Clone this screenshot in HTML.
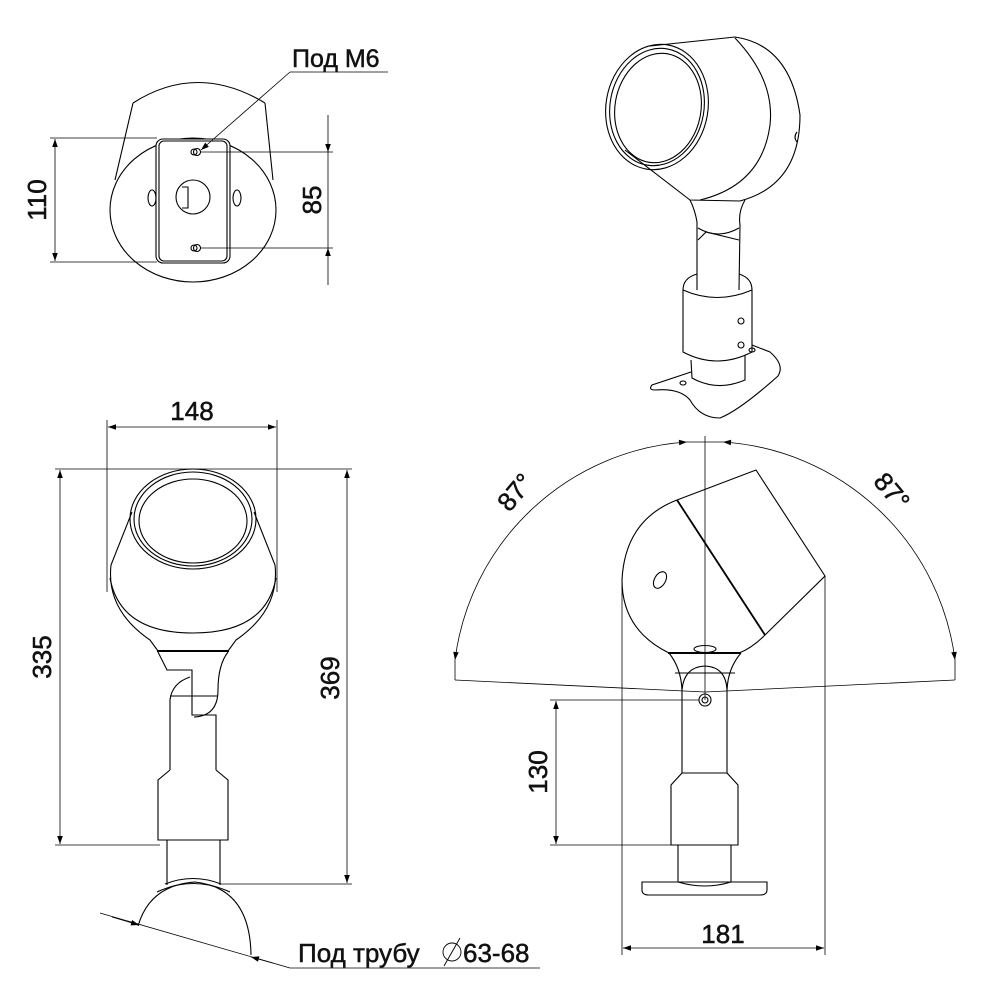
<!DOCTYPE html>
<html><head><meta charset="utf-8"><style>
html,body{margin:0;padding:0;background:#fff}
svg{display:block}
text{font-family:"Liberation Sans",sans-serif;fill:#111;stroke:#111;stroke-width:0.5}
</style></head><body>
<svg width="1000" height="1000" viewBox="0 0 1000 1000" xmlns="http://www.w3.org/2000/svg">
<defs>
<marker id="a" viewBox="0 0 10 10" refX="10" refY="5" markerWidth="16" markerHeight="8" markerUnits="userSpaceOnUse" orient="auto-start-reverse"><path d="M0,1.5 L10,5 L0,8.5z" fill="#000"/></marker>
</defs>
<g fill="none" stroke="#000" stroke-width="1.1">
<!-- TOP LEFT VIEW -->
<path d="M133,103 Q197,62 265,103"/>
<path d="M133,103 L115,180"/>
<path d="M265,103 L273,180"/>
<ellipse cx="193" cy="210" rx="83" ry="72"/>
<rect x="156" y="139" width="74" height="124" rx="7" fill="#fff"/>
<rect x="159" y="141" width="68" height="120" rx="5"/>
<circle cx="197" cy="152" r="3.5"/><circle cx="194" cy="152" r="3"/>
<circle cx="197" cy="248" r="3.5"/><circle cx="194" cy="248" r="3"/>
<circle cx="193" cy="197" r="17"/>
<path d="M182,187 L188,187 L188,208 L182,208"/>
<ellipse cx="152" cy="198" rx="4" ry="8"/>
<ellipse cx="237" cy="198" rx="4" ry="8"/>
<!-- dims top-left -->
<line x1="50" y1="138" x2="157" y2="138" stroke-width="0.8"/>
<line x1="50" y1="262" x2="157" y2="262" stroke-width="0.8"/>
<line x1="55" y1="139" x2="55" y2="261" marker-start="url(#a)" marker-end="url(#a)" stroke-width="0.8"/>
<line x1="200" y1="152" x2="333" y2="152" stroke-width="0.8"/>
<line x1="200" y1="248" x2="333" y2="248" stroke-width="0.8"/>
<line x1="328" y1="115" x2="328" y2="152" marker-end="url(#a)" stroke-width="0.8"/>
<line x1="328" y1="152" x2="328" y2="248" stroke-width="0.8"/>
<line x1="328" y1="285" x2="328" y2="248" marker-end="url(#a)" stroke-width="0.8"/>
<line x1="290" y1="72" x2="388" y2="72" stroke-width="0.8"/>
<line x1="290" y1="72" x2="201" y2="150" marker-end="url(#a)" stroke-width="0.8"/>

<!-- TOP RIGHT ISOMETRIC -->
<ellipse cx="657" cy="107" rx="51" ry="63" transform="rotate(10 657 107)"/>
<ellipse cx="657" cy="107" rx="47" ry="59" transform="rotate(10 657 107)"/>
<ellipse cx="658" cy="108" rx="43" ry="55" transform="rotate(10 658 108)"/>
<path d="M650,46 L735,37 Q790,45 800,115 Q800,185 740,201 L690,200 L625,150"/>
<path d="M735,38 Q775,80 770,125 Q762,185 700,200"/>
<path d="M797,132 q-4,5 0,10"/>
<path d="M690,200 Q695,210 697,222 L697,290"/>
<path d="M745,200 Q738,212 740,225 L739,290"/>
<path d="M698,228 Q718,240 739,228"/>
<path d="M698,240 L706,232 L739,240"/>
<path d="M683,290 Q683,278 697,274 M739,274 Q752,278 752,290"/>
<path d="M683,290 L683,352 Q717,370 752,352 L752,290 Q717,305 683,290"/>
<path d="M691,360 L692,378 Q717,392 745,380 L745,355"/>
<path d="M691,372 L652,385 Q648,390 655,390 Q680,388 690,400 Q700,418 720,418 Q740,410 778,376 Q785,365 770,352 L752,345"/>
<circle cx="741" cy="321" r="3"/><circle cx="741" cy="345" r="3"/>
<ellipse cx="683" cy="383" rx="3" ry="2"/><ellipse cx="752" cy="350" rx="3" ry="2"/>

<!-- BOTTOM LEFT FRONT VIEW -->
<line x1="55" y1="469" x2="352" y2="469" stroke-width="0.8"/>
<line x1="107" y1="420" x2="107" y2="592" stroke-width="0.8"/>
<line x1="277" y1="420" x2="277" y2="592" stroke-width="0.8"/>
<line x1="108" y1="427" x2="276" y2="427" marker-start="url(#a)" marker-end="url(#a)" stroke-width="0.8"/>
<ellipse cx="193" cy="519" rx="63" ry="50"/>
<ellipse cx="193" cy="519" rx="59" ry="47"/>
<ellipse cx="193" cy="521" rx="54" ry="42"/>
<path d="M132,512 L111,565 Q106,610 150,640 L158,651 M254,512 L275,565 Q280,610 236,640 L228,651"/>
<path d="M110,578 Q120,633 193,633 Q266,633 276,578"/>
<line x1="157" y1="651" x2="229" y2="651" stroke-width="2"/>
<path d="M158,652 L167,670 L192,670 L192,715 L216,715 L216,770"/>
<path d="M228,652 Q218,665 218,690 Q218,716 194,717"/>
<path d="M170,770 L170,700 Q172,683 190,677"/>
<line x1="170" y1="696" x2="218" y2="696"/>
<path d="M170,770 L158,780 L158,840 L228,840 L228,780 L216,770"/>
<path d="M167,840 L167,885 M220,840 L220,885"/>
<path d="M165,884 Q193,873 221,884"/>
<path d="M157,892 Q193,875 230,892"/>
<path d="M138,926 Q150,885 195,882 Q250,888 251,955"/>
<line x1="100" y1="913" x2="290" y2="968" stroke-width="0.8"/>
<line x1="112" y1="917" x2="139" y2="925" marker-end="url(#a)" stroke-width="0.8"/>
<line x1="273" y1="963" x2="251" y2="957" marker-end="url(#a)" stroke-width="0.8"/>
<line x1="290" y1="968" x2="540" y2="968" stroke-width="0.8"/>
<line x1="55" y1="845" x2="160" y2="845" stroke-width="0.8"/>
<line x1="60" y1="470" x2="60" y2="844" marker-start="url(#a)" marker-end="url(#a)" stroke-width="0.8"/>
<line x1="220" y1="884" x2="352" y2="884" stroke-width="0.8"/>
<line x1="347" y1="470" x2="347" y2="883" marker-start="url(#a)" marker-end="url(#a)" stroke-width="0.8"/>
<line x1="444" y1="966" x2="460" y2="938" stroke-width="0.9"/>
<circle cx="452" cy="952" r="9" stroke-width="0.9"/>

<!-- BOTTOM RIGHT SIDE VIEW -->
<line x1="705" y1="436" x2="705" y2="700" stroke-width="0.8"/>
<path d="M455,660 A250,250 0 0 1 687,442" stroke-width="0.8" marker-start="url(#a)" marker-end="url(#a)"/>
<path d="M955,660 A250,250 0 0 0 723,442" stroke-width="0.8" marker-start="url(#a)" marker-end="url(#a)"/>
<path d="M687,442 L723,442" stroke-width="0.8"/>
<path d="M455,680 L705,692 L955,680" stroke-width="0.8"/>
<line x1="455" y1="660" x2="455" y2="680" stroke-width="0.8"/>
<line x1="955" y1="660" x2="955" y2="680" stroke-width="0.8"/>
<path d="M677,500 L756,470 L825,576 L765,635"/>
<line x1="677" y1="500" x2="765" y2="635" stroke-width="1.8"/>
<path d="M677,500 Q625,520 622,580 Q622,630 669,653"/>
<path d="M765,635 Q752,648 739,653"/>
<line x1="668" y1="653" x2="741" y2="653" stroke-width="2"/>
<ellipse cx="660" cy="580" rx="5.5" ry="9" transform="rotate(30 660 580)"/>
<ellipse cx="705" cy="649" rx="11" ry="3.5"/>
<path d="M669,653 Q681,668 682,690 M741,653 Q728,668 727,690"/>
<line x1="675" y1="673" x2="735" y2="673"/>
<path d="M682,700 L682,690 Q684,667 705,666 Q726,667 727,690 L727,700"/>
<circle cx="705" cy="700" r="6"/><circle cx="705" cy="700" r="3"/>
<path d="M682,700 L682,773 L671,785 L671,845 L738,845 L738,785 L727,773 L727,700"/>
<line x1="682" y1="773" x2="727" y2="773"/>
<path d="M678,845 L678,882 M731,845 L731,882"/>
<path d="M678,882 Q705,890 731,882"/>
<path d="M642,882 L767,882 L767,890 Q767,895 760,895 L649,895 Q642,895 642,890 Z"/>
<line x1="622" y1="578" x2="622" y2="955" stroke-width="0.8"/>
<line x1="825" y1="576" x2="825" y2="955" stroke-width="0.8"/>
<line x1="623" y1="948" x2="824" y2="948" marker-start="url(#a)" marker-end="url(#a)" stroke-width="0.8"/>
<line x1="550" y1="700" x2="699" y2="700" stroke-width="0.8"/>
<line x1="550" y1="845" x2="671" y2="845" stroke-width="0.8"/>
<line x1="556" y1="701" x2="556" y2="844" marker-start="url(#a)" marker-end="url(#a)" stroke-width="0.8"/>
</g>

<!-- TEXT -->
<text x="292" y="67" font-size="25">Под М6</text>
<text transform="translate(46,200) rotate(-90)" font-size="26" text-anchor="middle">110</text>
<text transform="translate(321,200) rotate(-90)" font-size="26" text-anchor="middle">85</text>
<text x="192" y="420" font-size="26" text-anchor="middle">148</text>
<text transform="translate(51,657) rotate(-90)" font-size="26" text-anchor="middle">335</text>
<text transform="translate(339,678) rotate(-90)" font-size="26" text-anchor="middle">369</text>
<text x="298" y="962" font-size="26">Под трубу</text>
<text x="463" y="962" font-size="26">63-68</text>
<text transform="translate(547,772) rotate(-90)" font-size="26" text-anchor="middle">130</text>
<text x="723" y="943" font-size="26" text-anchor="middle">181</text>
<text transform="translate(522,498) rotate(-50)" font-size="26" text-anchor="middle">87°</text>
<text transform="translate(885,497) rotate(50)" font-size="26" text-anchor="middle">87°</text>
</svg>
</body></html>
